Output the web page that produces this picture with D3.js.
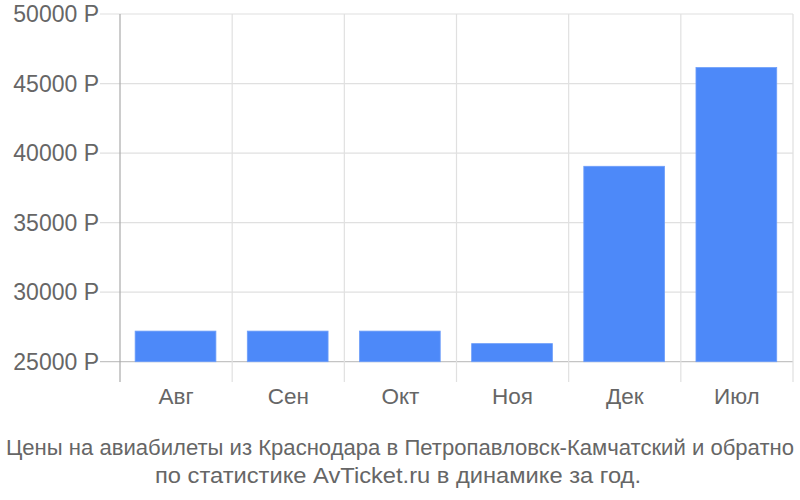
<!DOCTYPE html>
<html>
<head>
<meta charset="utf-8">
<script src="https://cdn.jsdelivr.net/npm/d3@7"></script>
<style>
  body { margin: 0; background: #fff; }
  svg { display: block; font-family: "Liberation Sans", Arial, sans-serif; }
</style>
</head>
<body>
<svg id="chart" width="800" height="500"></svg>
<script>
// data
const months = ['Авг', 'Сен', 'Окт', 'Ноя', 'Дек', 'Июл']
const prices = [27200, 27200, 27200, 26300, 39050, 46150]
const yTicks = [25000, 30000, 35000, 40000, 45000, 50000]
const titleLines = [
    'Цены на авиабилеты из Краснодара в Петропавловск-Камчатский и обратно',
    'по статистике AvTicket.ru в динамике за год.'
]

const svg = d3.select('#chart')
const plotLeft = 120, plotRight = 793, plotTop = 14, plotBottom = 361.7

const x = d3.scaleBand()
    .domain(months)
    .range([plotLeft, plotRight])

const y = d3.scaleLinear()
    .domain([25000, 50000])
    .range([plotBottom, plotTop])

// horizontal grid
svg.append('g')
    .selectAll('line')
    .data(yTicks)
    .enter()
    .append('line')
    .attr('x1', 100)
    .attr('x2', plotRight)
    .attr('y1', d => y(d))
    .attr('y2', d => y(d))
    .attr('stroke', d => d === 25000 ? '#c4c4c4' : '#e0e0e0')
    .attr('stroke-width', 1.2)

// vertical grid at category boundaries
const bounds = months.map(m => x(m)).concat([plotRight])
svg.append('g')
    .selectAll('line')
    .data(bounds)
    .enter()
    .append('line')
    .attr('x1', d => d)
    .attr('x2', d => d)
    .attr('y1', plotTop)
    .attr('y2', 382)
    .attr('stroke', (d, i) => i === 0 ? '#aaaaaa' : '#e0e0e0')
    .attr('stroke-width', 1.2)

// bars
const bw = x.bandwidth()
svg.append('g')
    .selectAll('rect')
    .data(prices)
    .enter()
    .append('rect')
    .attr('x', (d, i) => x(months[i]) + bw * 0.135)
    .attr('width', bw * 0.72)
    .attr('y', d => y(d))
    .attr('height', d => y(25000) - y(d))
    .attr('fill', '#4d89f9')
    .attr('stroke', '#6e9ef9')
    .attr('stroke-width', 0.8)

// y labels
svg.append('g')
    .selectAll('text')
    .data(yTicks)
    .enter()
    .append('text')
    .attr('x', 99)
    .attr('y', d => y(d))
    .attr('dy', '0.36em')
    .attr('text-anchor', 'end')
    .attr('font-size', 23)
    .attr('fill', '#666')
    .text(d => d + ' Р')

// x labels
svg.append('g')
    .selectAll('text')
    .data(months)
    .enter()
    .append('text')
    .attr('x', d => x(d) + bw / 2)
    .attr('y', 404)
    .attr('text-anchor', 'middle')
    .attr('font-size', 22.5)
    .attr('fill', '#666')
    .text(d => d)

// title, stretched a bit to the reference width (kept inside the frame)
const titleWidths = [788, 486]
svg.append('g')
    .selectAll('text')
    .data(titleLines)
    .enter()
    .append('text')
    .attr('x', (d, i) => i === 0 ? 400 : 398)
    .attr('y', (d, i) => 455 + i * 28)
    .attr('text-anchor', 'middle')
    .attr('font-size', 21.5)
    .attr('textLength', (d, i) => titleWidths[i])
    .attr('lengthAdjust', 'spacingAndGlyphs')
    .attr('fill', '#666')
    .text(d => d)
</script>
</body>
</html>
